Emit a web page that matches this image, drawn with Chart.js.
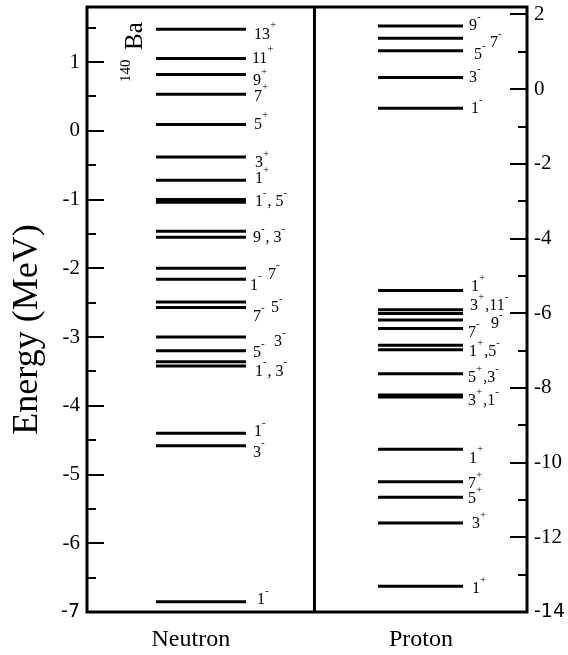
<!DOCTYPE html>
<html>
<head>
<meta charset="utf-8">
<script src="https://cdn.jsdelivr.net/npm/chart.js@4.4.0/dist/chart.umd.min.js"></script>
<style>
  html, body { margin:0; padding:0; background:#fff; }
  #wrap { width:568px; height:655px; }
</style>
</head>
<body>
<div id="wrap"><canvas id="levels" width="568" height="655"></canvas></div>
<script>
// ============================================================
// 140Ba single-particle levels — neutron (left axis) / proton (right axis)
// ============================================================

const CATEGORIES = ['Neutron', 'Proton'];

// level energies (MeV), top to bottom
const NEUTRON_E = [1.475, 1.05, 0.82, 0.53, 0.09, -0.38, -0.72, -1.0, -1.04,
  -1.46, -1.55, -2.0, -2.16, -2.49, -2.57, -3.0, -3.2, -3.36, -3.42, -4.40, -4.58, -6.85];
const PROTON_E = [1.69, 1.36, 1.03, 0.31, -0.51, -5.39, -5.91, -6.01, -6.18, -6.41,
  -6.86, -6.98, -7.62, -8.19, -8.24, -9.64, -10.51, -10.93, -11.62, -13.31];

// tick labels
const LEFT_TICKS = [-7, -6, -5, -4, -3, -2, -1, 0, 1];
const RIGHT_TICKS = [-14, -12, -10, -8, -6, -4, -2, 0, 2];

// spin/parity tags ('^' = next char raised) and the energy they sit at
const NEUTRON_TAGS = ['13^+', '11^+', '9^+', '7^+', '5^+', '3^+', '1^+', '1^-, 5^-', '9^-, 3^-',
  '7^-', '1^-', '5^-', '7^-', '3^-', '5^-', '1^-, 3^-', '1^-', '3^-', '1^-'];
const NEUTRON_TAG_E = [1.40, 1.05, 0.72, 0.50, 0.09, -0.47, -0.70, -1.04, -1.56,
  -2.09, -2.25, -2.58, -2.71, -3.07, -3.23, -3.50, -4.38, -4.68, -6.82];
const PROTON_TAGS = ['9^-', '7^-', '5^-', '3^-', '1^-', '1^+', '3^+,11^-', '9^-', '7^-',
  '1^+,5^-', '5^+,3^-', '3^+,1^-', '1^+', '7^+', '5^+', '3^+', '1^+'];
const PROTON_TAG_E = [1.69, 1.23, 0.91, 0.30, -0.53, -5.30, -5.81, -6.29, -6.53,
  -7.03, -7.73, -8.34, -9.89, -10.58, -10.98, -11.64, -13.38];

// ---- layout (x axis runs 0..1, offsets in px) ----
const COL_X = [0.259, 0.758];
const LABEL_X = [0.236, 0.759];
const DIVIDER_X = 0.517;
const HALF_W = [45, 42.5];
const NEUTRON_TAG_DX = [8, 6, 7, 8, 8, 9, 9, 9, 7, 22, 4, 25, 7, 28, 7, 9, 8, 7, 11];
const PROTON_TAG_DX = [6, 27, 11, 6, 8, 8, 7, 28, 5, 6, 5, 5, 6, 5, 5, 9, 9];

const SERIF = 'Liberation Serif';

function drawTag(ctx, str, x, y){
  const parts = str.split(/\^(.)/);
  let cx = x;
  parts.forEach((p, i) => {
    if(!p) return;
    const sup = i % 2 === 1;
    ctx.font = (sup ? 11 : 16) + 'px ' + SERIF;
    ctx.fillText(p, cx, sup ? y - 9 : y);
    cx += ctx.measureText(p).width + (sup ? 1 : 0);
  });
}

const frame = {
  id: 'frame',
  afterDatasetsDraw(chart){
    const { ctx, chartArea: a, scales } = chart;
    ctx.save();
    ctx.strokeStyle = '#000';
    ctx.fillStyle = '#000';

    // inward tick marks
    ctx.lineWidth = 2;
    ctx.beginPath();
    for(let v = -7; v <= 1.8; v += 0.5){
      const y = Math.round(scales.y.getPixelForValue(v));
      const len = Number.isInteger(v) ? 17 : 9;
      ctx.moveTo(a.left, y); ctx.lineTo(a.left + len, y);
    }
    for(let v = -14; v <= 2.2; v += 1){
      const y = Math.round(scales.y2.getPixelForValue(v));
      const len = v % 2 === 0 ? 17 : 9;
      ctx.moveTo(a.right, y); ctx.lineTo(a.right - len, y);
    }
    ctx.stroke();

    // frame + divider
    ctx.lineWidth = 3;
    ctx.strokeRect(a.left, a.top, a.right - a.left, a.bottom - a.top);
    const xd = scales.x.getPixelForValue(DIVIDER_X);
    ctx.beginPath(); ctx.moveTo(xd, a.top); ctx.lineTo(xd, a.bottom); ctx.stroke();

    // spin/parity tags
    ctx.textAlign = 'left';
    ctx.textBaseline = 'middle';
    const nEnd = scales.x.getPixelForValue(COL_X[0]) + HALF_W[0];
    NEUTRON_TAGS.forEach((t, i) => drawTag(ctx, t, nEnd + NEUTRON_TAG_DX[i], scales.y.getPixelForValue(NEUTRON_TAG_E[i])));
    const pEnd = scales.x.getPixelForValue(COL_X[1]) + HALF_W[1];
    PROTON_TAGS.forEach((t, i) => drawTag(ctx, t, pEnd + PROTON_TAG_DX[i], scales.y2.getPixelForValue(PROTON_TAG_E[i])));

    // nucleus label + axis title, rotated
    ctx.textBaseline = 'alphabetic';
    ctx.save();
    ctx.translate(a.left + 55, a.top + 43);
    ctx.rotate(-Math.PI / 2);
    ctx.font = '25px ' + SERIF;
    ctx.fillText('Ba', 0, 0);
    ctx.restore();
    ctx.save();
    ctx.translate(a.left + 43, a.top + 75);
    ctx.rotate(-Math.PI / 2);
    ctx.font = '15px ' + SERIF;
    ctx.fillText('140', 0, 0);
    ctx.restore();
    ctx.save();
    ctx.translate(a.left - 50, (a.top + a.bottom) / 2 + 20);
    ctx.rotate(-Math.PI / 2);
    ctx.textAlign = 'center';
    ctx.font = '36px ' + SERIF;
    ctx.fillText('Energy (MeV)', 0, 0);
    ctx.restore();

    ctx.restore();
  }
};

function levelSet(label, energies, col, axis){
  return {
    label, yAxisID: axis,
    data: energies.map(e => ({ x: COL_X[col], y: e })),
    showLine: false,
    borderColor: '#000', backgroundColor: '#000',
    pointStyle: 'line', pointRadius: HALF_W[col], pointHoverRadius: HALF_W[col],
    pointBorderWidth: 3, pointBorderColor: '#000', pointBackgroundColor: '#000'
  };
}

const tickFont = (ctx) => {
  const edge = ctx.tick && (ctx.tick.value === -7 || ctx.tick.value === -14);
  return edge ? { family: 'DejaVu Sans', size: 19 } : { family: SERIF, size: 21 };
};

new Chart(document.getElementById('levels'), {
  type: 'scatter',
  data: { datasets: [
    levelSet(CATEGORIES[0], NEUTRON_E, 0, 'y'),
    levelSet(CATEGORIES[1], PROTON_E, 1, 'y2')
  ]},
  options: {
    responsive: false, animation: false, events: [],
    layout: { autoPadding: false, padding: { top: 7, left: 0, right: 0, bottom: 0 } },
    plugins: { legend: { display: false }, tooltip: { enabled: false }, colors: { enabled: false } },
    scales: {
      x: {
        type: 'linear', min: 0, max: 1,
        grid: { display: false }, border: { display: false },
        afterBuildTicks: s => { s.ticks = LABEL_X.map(v => ({ value: v })); },
        ticks: { callback: (v, i) => CATEGORIES[i], color: '#000', font: { family: SERIF, size: 24 },
                 padding: 5, autoSkip: false, maxRotation: 0 },
        afterFit: s => { s.height = 43; s.paddingLeft = 0; s.paddingRight = 0; }
      },
      y: {
        type: 'linear', position: 'left', min: -7, max: 1.8,
        grid: { display: false, drawTicks: false }, border: { display: false },
        afterBuildTicks: s => { s.ticks = LEFT_TICKS.map(v => ({ value: v })); },
        ticks: { color: '#000', font: tickFont, padding: 7 },
        afterFit: s => { s.width = 87; s.paddingTop = 0; s.paddingBottom = 0; }
      },
      y2: {
        type: 'linear', position: 'right', min: -14, max: 2.2,
        grid: { display: false, drawTicks: false }, border: { display: false },
        afterBuildTicks: s => { s.ticks = RIGHT_TICKS.map(v => ({ value: v })); },
        ticks: { color: '#000', font: tickFont, padding: 7 },
        afterFit: s => { s.width = 41; s.paddingTop = 0; s.paddingBottom = 0; }
      }
    }
  },
  plugins: [frame]
});
</script>
</body>
</html>
